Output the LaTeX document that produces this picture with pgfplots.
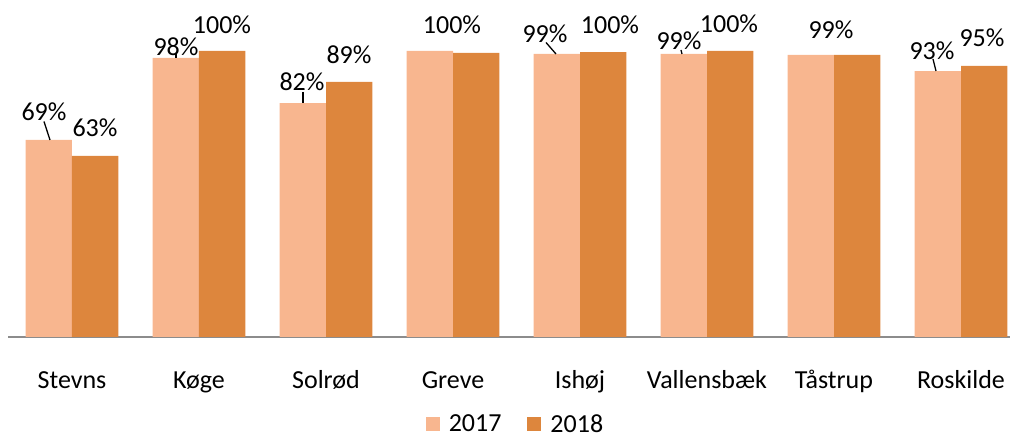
\documentclass[border=0pt]{standalone}
\usepackage{pgfplots}
\pgfplotsset{compat=1.18}
\usepackage{fontspec}
\setmainfont{Carlito}
\definecolor{cA}{HTML}{F8B68F}
\definecolor{cB}{HTML}{DD863D}
\definecolor{axgray}{HTML}{8C8C8C}
\begin{document}
\begin{tikzpicture}[x=1pt,y=1pt]
\begin{axis}[
  at={(0,0)}, anchor=south west,
  scale only axis, width=1001.5pt, height=337pt,
  xmin=-0.5, xmax=7.386, ymin=0, ymax=117.83,
  axis x line=bottom, axis y line=none,
  axis line style={draw=axgray, line width=1.6pt, -},
  xtick={0,1,2,3,4,5,6,7}, major tick length=0pt,
  xticklabels={Stevns,Køge,Solrød,Greve,Ishøj,Vallensbæk,Tåstrup,Roskilde},
  xticklabel style={anchor=base, yshift=-51pt, font=\fontsize{26}{30}\selectfont, inner sep=0pt},
  ybar=0pt, bar width=0.366,
  legend style={at={(0.5057,-0.258)}, anchor=center, draw=none, fill=none, legend columns=-1,
    font=\fontsize{26}{30}\selectfont, inner sep=1pt,
    nodes={inner sep=1pt},
    /tikz/every odd column/.append style={column sep=8pt},
    /tikz/every even column/.append style={column sep=25pt}},
  legend image code/.code={\fill[#1,draw=none] (0pt,-7pt) rectangle (14pt,7pt);},
]
\addplot[fill=cA, draw=none, bar shift=-0.183] coordinates {(0,68.9) (1,97.6) (2,81.8) (3,100) (4,99.0) (5,99.0) (6,98.6) (7,93.0)};
\addplot[fill=cB, draw=none, bar shift=0.183] coordinates {(0,63.3) (1,100) (2,89.2) (3,99.3) (4,99.6) (5,100) (6,98.6) (7,94.8)};
\legend{2017,2018}
\end{axis}
\begin{scope}[shift={(-8.5pt,337pt)}, y=-1pt, every node/.style={font=\fontsize{26}{30}\selectfont, anchor=base, inner sep=0pt}]
\node at (44,120.2) {69\%};
\node at (95,136.2) {63\%};
\node at (176,55.2) {98\%};
\node at (222,33.2) {100\%};
\node at (302,90.2) {82\%};
\node at (349,63.2) {89\%};
\node at (452,33.2) {100\%};
\node at (545,42.2) {99\%};
\node at (610,33.2) {100\%};
\node at (679,49.2) {99\%};
\node at (729,32.2) {100\%};
\node at (831,38.2) {99\%};
\node at (932,59.2) {93\%};
\node at (982,46.2) {95\%};
\draw[line width=1.3pt] (44,121.5) -- (50,140);
\draw[line width=1.3pt] (176,54) -- (176,58);
\draw[line width=1.3pt] (303,92) -- (303,103);
\draw[line width=1.3pt] (546,42.5) -- (556,54);
\draw[line width=1.3pt] (681,50) -- (682,54);
\draw[line width=1.3pt] (933,59) -- (936,71);
\end{scope}
\pgfresetboundingbox
\path[use as bounding box] (-8.5pt,-99pt) rectangle (1001.5pt,337pt);
\end{tikzpicture}
\end{document}
